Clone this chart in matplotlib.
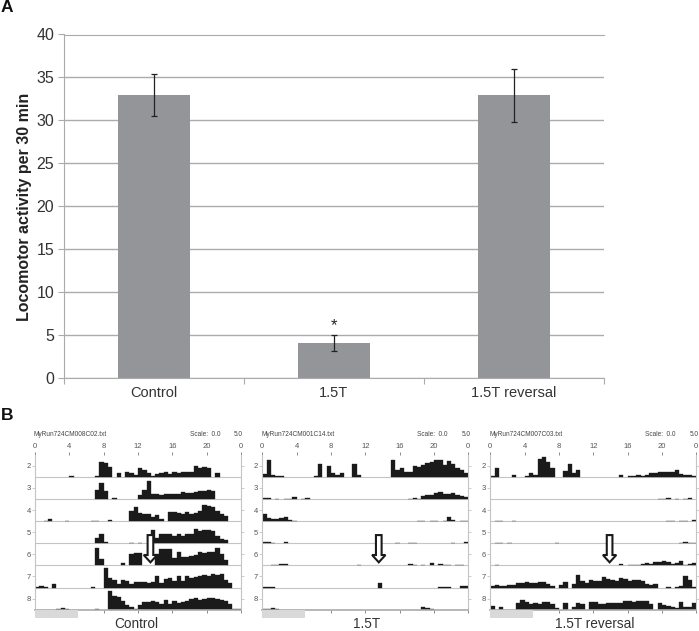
import matplotlib
matplotlib.use("Agg")
import matplotlib.pyplot as plt

plt.rcParams['font.family'] = ['Liberation Sans', 'DejaVu Sans']

W, H = 699, 631
GREY = "#a9abae"
BAR_GREY = "#939598"
TEXT = "#333333"

""" Panel A """
groups = ["Control", "1.5T", "1.5T reversal"]
means = [33, 4, 33]
err_low = [2.5, 0.9, 3.2]
err_high = [2.4, 1.0, 3.0]
y_ticks = [0, 5, 10, 15, 20, 25, 30, 35, 40]

""" Panel B: activity per half hour bin, {bin: height on the 0-5 scale} """
row_names = [2, 3, 4, 5, 6, 7, 8]
hour_ticks = [0, 4, 8, 12, 16, 20, 24]
hour_labels = ["0", "4", "8", "12", "16", "20", "0"]
panel_files = ["MyRun724CM008C02.txt", "MyRun724CM001C14.txt", "MyRun724CM007C03.txt"]
arrow_hours = [13.45, 13.57, 13.9]

control_rows = [
    {8: .1, 14: .1, 15: 3.4, 16: 3.1, 17: 2.3, 19: .8, 21: 1.1, 22: .9, 23: .4, 24: 1.9, 25: 1.5, 26: .8, 27: .2,
     28: .6, 29: .9, 30: 1.1, 31: .6, 32: 1.1, 33: .9, 34: 1.1, 35: 1.1, 36: 1.2, 37: 2.4, 38: 2.1, 39: 2.2, 40: 2.1,
     42: .9},
    {14: 2.1, 15: 3.7, 16: 1.9, 18: .2, 24: .9, 25: 2.1, 26: 4.0, 27: 1.1, 28: 1.2, 29: 1.0, 30: 1.1, 31: 1.1, 32: 1.2,
     33: 1.2, 34: 1.6, 35: 1.4, 36: 1.4, 37: 1.6, 38: 1.8, 39: 1.9, 40: 2.1, 41: 1.9},
    {2: .1, 3: .4, 7: .1, 13: .1, 14: .1, 17: .15, 22: 2.3, 23: 3.1, 24: 1.9, 25: 1.5, 26: 1.7, 27: .9, 28: 1.4, 29: .5,
     31: 2.0, 32: 2.0, 33: 1.8, 34: 1.7, 35: 2.0, 36: 1.6, 37: 1.8, 38: 2.2, 39: 3.6, 40: 3.4, 41: 3.1, 42: 2.3,
     43: 1.6, 44: 1.1},
    {14: 1.2, 15: 2.1, 16: .3, 22: .1, 24: .1, 27: 3.1, 28: 1.2, 29: 2.0, 30: 2.1, 31: 2.1, 32: 1.6, 33: 2.1, 34: 1.7,
     35: 2.1, 36: 2.0, 37: 3.3, 38: 2.8, 39: 2.9, 40: 2.9, 41: 2.8, 42: 1.7, 43: 1.0, 44: .7},
    {14: 3.9, 15: 1.4, 20: .5, 22: 2.5, 23: 2.8, 24: 2.7, 28: 2.6, 29: 3.6, 30: 3.6, 31: 3.6, 32: 1.7, 33: 3.0,
     34: 1.8, 35: 2.0, 36: 2.2, 37: 2.4, 38: 3.1, 39: 2.9, 40: 3.1, 41: 3.1, 42: 3.9, 43: 2.6, 44: 1.3},
    {0: .1, 1: .3, 2: .15, 4: .8, 13: .1, 16: 4.4, 17: 2.1, 18: 1.7, 19: .9, 20: 1.8, 21: 1.4, 22: .7, 23: 1.3, 24: 1.3,
     25: 1.2, 26: 1.1, 27: 1.3, 28: 2.6, 29: 1.1, 30: 1.9, 31: 2.1, 32: 1.4, 33: 2.7, 34: 1.4, 35: 2.6, 36: 2.2,
     37: 2.3, 38: 2.6, 39: 2.9, 40: 2.7, 41: 3.0, 42: 2.9, 43: 3.0, 44: 1.7, 45: 1.0},
    {5: .15, 6: .3, 7: .15, 14: .1, 17: 4.3, 18: 3.1, 19: 2.8, 20: 2.0, 21: 1.1, 22: .5, 23: .2, 24: 1.0, 25: 1.7,
     26: 1.7, 27: 1.9, 28: 1.8, 29: 1.4, 30: 2.2, 31: 1.3, 32: 2.0, 33: 1.5, 34: 1.7, 35: 1.9, 36: 2.5, 37: 2.6,
     38: 2.3, 39: 2.4, 40: 2.6, 41: 2.6, 42: 2.5, 43: 2.1, 44: 1.9, 45: 1.2, 46: .1, 47: .1},
]

magnet_rows = [
    {0: .6, 1: 3.7, 2: .4, 3: .2, 4: .1, 12: .1, 13: 3.0, 15: 2.5, 16: .9, 17: .4, 18: .8, 21: 2.9, 22: .5, 30: 3.9,
     31: 1.6, 32: 2.1, 33: 1.2, 34: 1.2, 35: 2.5, 36: 2.3, 37: 2.6, 38: 3.2, 39: 3.3, 40: 3.9, 41: 3.9, 42: 2.6,
     43: 3.5, 44: 2.9, 45: 1.9, 46: 1.6, 47: .9},
    {0: .3, 1: .2, 3: .1, 5: .1, 6: .1, 7: .4, 9: .1, 10: .3, 34: .1, 35: .3, 36: .1, 37: .6, 38: 1.0, 39: .9, 40: 1.3,
     41: 1.5, 42: 1.2, 43: 1.1, 44: 1.3, 45: .9, 46: .6, 47: .5},
    {0: 1.6, 1: .6, 2: .5, 3: .4, 4: .6, 5: 1.0, 6: .2, 7: .1, 36: .1, 37: .1, 39: .1, 40: .1, 42: .1, 43: .9, 44: .2,
     46: .1, 47: .1},
    {0: .2, 1: .2, 2: .1, 5: .2, 31: .1, 34: .1, 35: .1, 44: .1, 47: .2},
    {2: .2, 3: .2, 4: .3, 5: .4, 22: .2, 34: .4, 35: .2, 37: .1, 39: .5, 41: .3, 42: .1, 43: .1, 45: .1, 46: .1},
    {0: .1, 1: .1, 2: .2, 27: 1.0, 41: .1, 42: .1, 43: .1, 46: .3, 47: .4},
    {0: .1, 1: .1, 2: .3, 3: .2, 37: .5, 38: .3, 39: .2},
]

reversal_rows = [
    {0: .3, 1: 1.9, 5: .4, 8: .1, 9: .9, 10: .4, 11: 4.1, 12: 4.4, 13: 3.4, 14: 1.9, 17: 1.3, 18: 2.8, 19: .8, 20: 1.6,
     30: .4, 32: .3, 33: .3, 34: .4, 35: .3, 36: .5, 37: .8, 38: .9, 39: 1.1, 40: 1.2, 41: 1.2, 42: 1.0, 43: 1.6,
     44: .7, 45: .4, 46: .4, 47: .1},
    {39: .1, 40: .1, 41: .15, 43: .1, 45: .1, 46: .2},
    {1: .1, 2: .1, 5: .1, 41: .1, 42: .1, 44: .1, 45: .1, 47: .2},
    {1: .1, 2: .1, 4: .1, 15: .1, 44: .1, 45: .2, 46: .1, 47: .1},
    {1: .1, 30: .4, 32: .1, 33: .2, 34: .2, 35: .3, 36: .5, 37: .3, 38: .7, 39: .8, 40: 1.0, 41: .8, 42: .4, 43: .5,
     44: 1.1, 45: .1, 46: .4, 47: .5},
    {0: .3, 1: .6, 2: .4, 3: .4, 4: .6, 5: .6, 6: 1.0, 7: 1.0, 8: 1.3, 9: 1.1, 10: 1.0, 11: 1.2, 12: 1.3, 13: .9,
     14: .4, 16: .6, 17: 1.3, 19: .8, 20: 2.9, 21: 1.5, 22: 1.0, 23: 1.8, 24: 1.4, 25: 1.4, 26: 2.3, 27: 1.9, 28: 1.8,
     29: 1.4, 30: 2.1, 31: 2.0, 32: 1.5, 33: 1.8, 34: 1.8, 35: 1.5, 36: .9, 37: .5, 38: .7, 41: .1, 43: .2, 44: .3,
     45: 2.5, 46: 1.8, 47: .1},
    {0: .9, 2: .7, 6: 1.5, 7: 2.2, 8: 1.8, 9: 1.3, 10: 1.6, 11: 1.3, 12: 1.7, 13: 1.7, 14: 1.3, 15: .4, 17: 1.5, 19: .6,
     20: 1.5, 21: 1.2, 23: 1.7, 24: 1.7, 25: 1.2, 26: 1.2, 27: 1.5, 28: 1.6, 29: 1.6, 30: 1.6, 31: 2.0, 32: 1.9,
     33: 1.8, 34: 1.9, 35: 1.9, 36: 1.9, 37: 1.4, 39: 1.5, 40: 1.1, 41: .9, 42: .7, 43: .3, 44: 1.7, 45: .5, 46: .5,
     47: 1.5},
]

panel_rows = [control_rows, magnet_rows, reversal_rows]
panel_lefts = [35, 262.3, 490.3]


def px_axes(fig, left, top, right, bottom):
    return fig.add_axes([left / W, 1 - bottom / H, (right - left) / W, (bottom - top) / H])


def draw_bars(fig):
    ax = px_axes(fig, 64, 34.5, 604, 377.5)
    x = range(len(groups))
    ax.bar(x, means, width=0.4, color=BAR_GREY, zorder=2)
    ax.errorbar(x, means, yerr=[err_low, err_high], fmt="none", ecolor="#222222", elinewidth=0.9,
                capsize=2.5, capthick=0.9, zorder=3)
    ax.set_xlim(-0.5, 2.5)
    ax.set_ylim(0, 40)
    ax.set_yticks(y_ticks)
    ax.grid(axis="y", color=GREY, linewidth=1, zorder=1)
    ax.set_axisbelow(True)
    ax.set_xticks([-0.5, 0.5, 1.5, 2.5])
    ax.set_xticklabels([])
    ax.set_xticks(list(x), groups, minor=True)
    ax.tick_params(axis="x", which="minor", length=0, labelsize=10.5, labelcolor=TEXT, pad=6)
    ax.tick_params(axis="x", which="major", length=4, color=GREY)
    ax.tick_params(axis="y", length=4, color=GREY, labelsize=11.5, labelcolor=TEXT, pad=3)
    ax.spines["right"].set_visible(False)
    for side in ["left", "bottom", "top"]:
        ax.spines[side].set_color(GREY)
    ax.text(1, 6.1, "*", ha="center", va="center", fontsize=12, color="#222222")
    fig.text(25 / W, 1 - 207 / H, "Locomotor activity per 30 min", rotation=90, ha="center", va="center",
             fontsize=11.5, fontweight="bold", color="#222222")


def draw_actogram(fig, left, rows, name, arrow_hour):
    # one row is one 0-5 scale, baseline at row + 0.5
    ax = px_axes(fig, left, 454.7, left + 206, 609.7)
    for row, values in zip(row_names, rows):
        ax.axhline(row + 0.5, color="#c4c4c4", linewidth=0.8, zorder=1)
        bins = list(values.keys())
        ax.bar([b / 2 for b in bins], [-values[b] / 5 for b in bins], width=0.5, bottom=row + 0.5,
               align="edge", color="#1a1a1a", edgecolor="#1a1a1a", linewidth=0.25, zorder=2)
    ax.set_xlim(0, 24)
    ax.set_ylim(8.5, 1.5)
    ax.set_yticks(row_names)
    ax.tick_params(axis="y", left=True, right=True, length=2, width=0.6, color="#c4c4c4", labelsize=5.5,
                   labelcolor="#555555", pad=1)
    ax.set_xticks(hour_ticks)
    ax.set_xticklabels(hour_labels)
    ax.tick_params(axis="x", top=True, bottom=True, labeltop=True, labelbottom=False, length=2, width=0.6,
                   color="#777777", labelsize=5.5, labelcolor="#555555", pad=1.5)
    ax.spines["top"].set_visible(False)
    for side in ["left", "right"]:
        ax.spines[side].set_color("#c4c4c4")
    ax.spines["bottom"].set_color(GREY)
    ax.spines["bottom"].set_linewidth(1.2)

    # open down arrow
    sx, hx, top, neck, tip = 0.33, 0.78, 5.13, 6.03, 6.36
    ax.fill([arrow_hour - sx, arrow_hour + sx, arrow_hour + sx, arrow_hour + hx, arrow_hour, arrow_hour - hx,
             arrow_hour - sx],
            [top, top, neck, neck, tip, neck, neck], facecolor="white", edgecolor="#1a1a1a", linewidth=1.5, zorder=4)

    # light bar under the axis, 0-5 h
    fig.add_artist(plt.Rectangle((left / W, 1 - 617.7 / H), 43 / W, 7.5 / H, color="#d9d9d9", linewidth=0))

    fig.text((left - 1) / W, 1 - 435 / H, name, ha="left", va="center", fontsize=4.7, color="#444444")
    fig.text((left + 155) / W, 1 - 435 / H, "Scale:  0.0", ha="left", va="center", fontsize=4.7, color="#444444")
    fig.text((left + 199) / W, 1 - 435 / H, "5.0", ha="left", va="center", fontsize=4.7, color="#444444")


fig = plt.figure(figsize=(W / 100, H / 100), dpi=100)
draw_bars(fig)
for left, rows, name, hour in zip(panel_lefts, panel_rows, panel_files, arrow_hours):
    draw_actogram(fig, left, rows, name, hour)

fig.text(136 / W, 1 - 624.5 / H, "Control", ha="center", va="center", fontsize=9.8, color=TEXT)
fig.text(366.5 / W, 1 - 624.5 / H, "1.5T", ha="center", va="center", fontsize=9.8, color=TEXT)
fig.text(595 / W, 1 - 624.5 / H, "1.5T reversal", ha="center", va="center", fontsize=9.8, color=TEXT)
fig.text(1 / W, 1 - 8 / H, "A", ha="left", va="center", fontsize=12.5, fontweight="bold", color="#111111")
fig.text(1 / W, 1 - 416 / H, "B", ha="left", va="center", fontsize=12.5, fontweight="bold", color="#111111")

fig.savefig("out.png", dpi=100)
